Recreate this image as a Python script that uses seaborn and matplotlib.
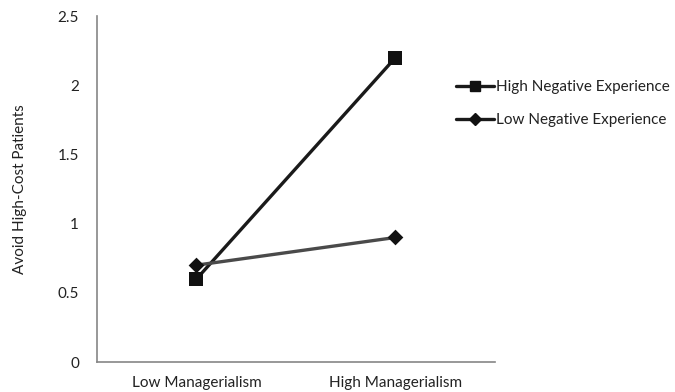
import matplotlib
matplotlib.use("Agg")
import matplotlib.pyplot as plt
import seaborn as sns
import pandas as pd
from matplotlib.lines import Line2D

categories = ["Low Managerialism", "High Managerialism"]
high_neg = [0.6, 2.2]
low_neg = [0.7, 0.9]
series_names = ["High Negative Experience", "Low Negative Experience"]
y_ticks = [0, 0.5, 1, 1.5, 2, 2.5]
y_tick_labels = ["0", "0.5", "1", "1.5", "2", "2.5"]

df = pd.DataFrame({
    "cond": categories * 2,
    "value": high_neg + low_neg,
    "group": [series_names[0]] * 2 + [series_names[1]] * 2,
})

sns.set_style("white")
plt.rcParams["font.family"] = ["Lato", "DejaVu Sans"]

fig = plt.figure(figsize=(6.75, 3.92), dpi=100)
ax = fig.add_axes([0.1437, 0.0765, 0.7333 - 0.1437, 0.959 - 0.0765])

line_colors = {series_names[0]: "#1a1a1a", series_names[1]: "#4a4a4a"}
marker_map = {series_names[0]: "s", series_names[1]: "D"}
size_map = {series_names[0]: 10.5, series_names[1]: 8}

for name in series_names:
    sub = df[df["group"] == name]
    sns.lineplot(data=sub, x="cond", y="value", ax=ax, color=line_colors[name],
                 linewidth=2.4, legend=False, zorder=2)
    sns.scatterplot(data=sub, x="cond", y="value", ax=ax, marker=marker_map[name],
                    s=size_map[name] ** 2, color="#111111", edgecolor="#111111",
                    linewidth=0, legend=False, zorder=3)

ax.set_xlim(-0.5, 1.5)
ax.set_ylim(0, 2.5)
ax.set_yticks(y_ticks)
ax.set_yticklabels(y_tick_labels)
ax.set_xticks([0, 1])
ax.set_xticklabels(categories)
ax.set_xticks([-0.5, 0.5, 1.5], minor=True)
ax.tick_params(axis="x", which="major", length=0, pad=10, labelsize=11, colors="#222222")
ax.tick_params(axis="x", which="minor", length=5, width=1, color="#868686", direction="out")
ax.tick_params(axis="y", which="major", length=5, width=1, color="#868686", direction="out",
               labelsize=11, labelcolor="#222222", pad=8)
ax.set_xlabel("")
ax.set_ylabel("Avoid High-Cost Patients", fontsize=11, color="#222222", labelpad=22)

for side in ["top", "right"]:
    ax.spines[side].set_visible(False)
for side in ["left", "bottom"]:
    ax.spines[side].set_color("#868686")
    ax.spines[side].set_linewidth(1.2)

handles = [
    Line2D([], [], color=line_colors[series_names[0]], linewidth=2.4, marker="s",
           markersize=7.5, markerfacecolor="#111111", markeredgecolor="#111111"),
    Line2D([], [], color="#1a1a1a", linewidth=2.4, marker="D",
           markersize=6, markerfacecolor="#111111", markeredgecolor="#111111"),
]
fig.legend(handles, series_names, loc="upper left", bbox_to_anchor=(0.655, 0.83),
           frameon=False, fontsize=11, handlelength=2.5, handletextpad=0.1,
           labelspacing=1.25, labelcolor="#222222")

fig.savefig("out.png", dpi=100)
